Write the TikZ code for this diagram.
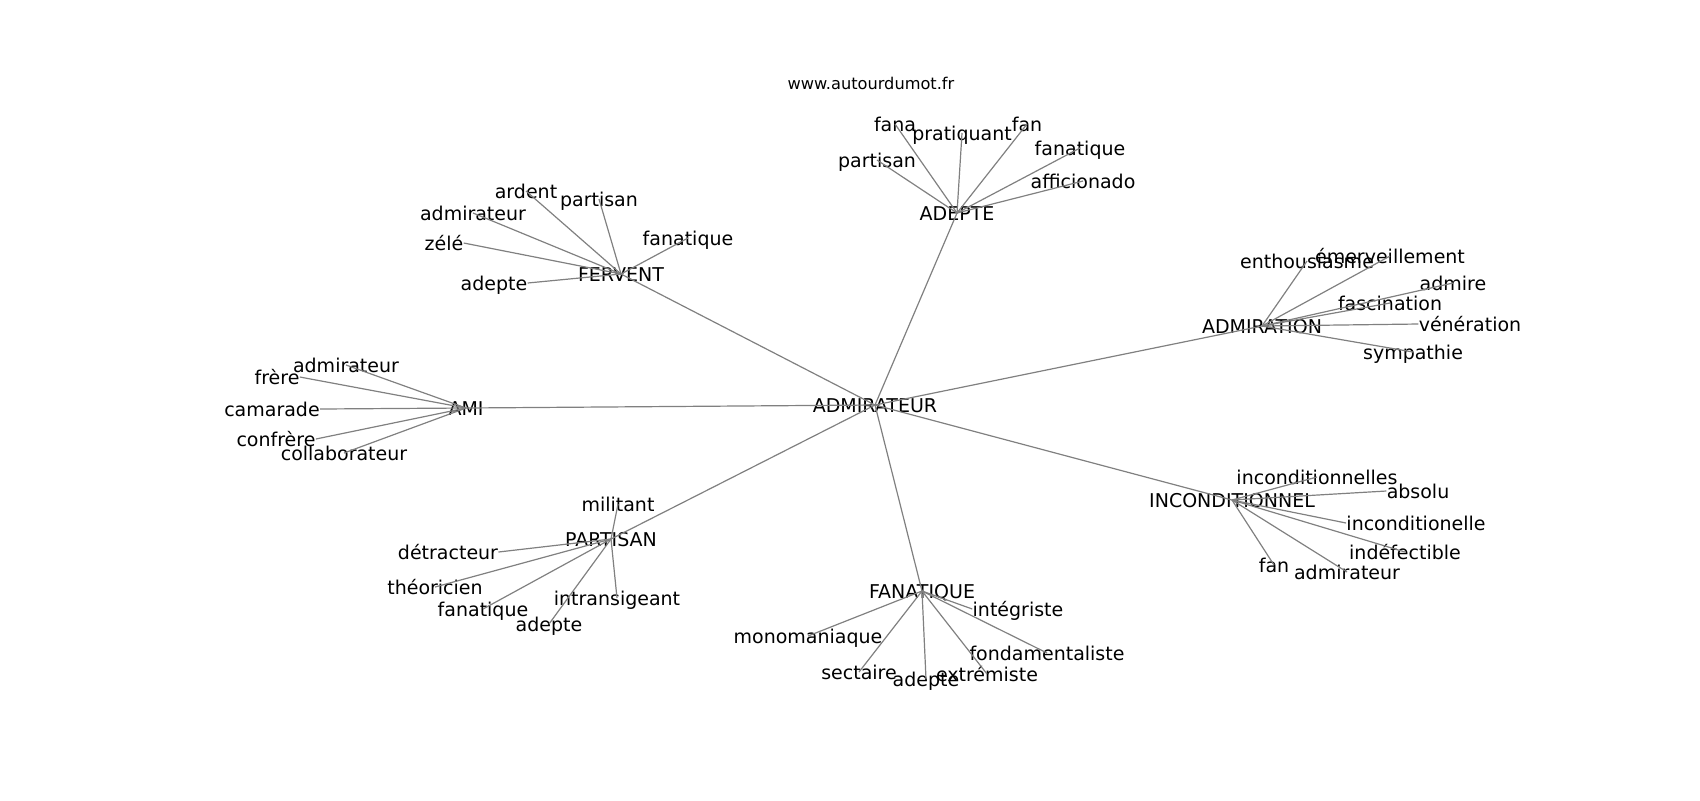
\documentclass[tikz,border=0pt]{standalone}
\usepackage{fontspec}
\setmainfont{DejaVu Sans}
\usetikzlibrary{positioning}

\begin{document}
\begin{tikzpicture}[x=0.5pt, y=-0.5pt,
  word/.style={font=\fontsize{9.5}{11}\selectfont, inner sep=0pt, text height=0.75em, text depth=0pt},
  link/.style={draw=gray, line width=0.6pt}]
  \useasboundingbox (0,0) rectangle (1700,800);

  \node[font=\fontsize{8.1}{10}\selectfont] (site) at (871,83) {www.autourdumot.fr};

  \node[word] (admirateur) at (875,405) {ADMIRATEUR};
  \node[word] (adepte) at (957,213) {ADEPTE};
  \node[word] (fervent) at (621,274) {FERVENT};
  \node[word] (ami) at (466,408) {AMI};
  \node[word] (admiration) at (1262,326) {ADMIRATION};
  \node[word] (incond) at (1232,500) {INCONDITIONNEL};
  \node[word] (partisan) at (611,539) {PARTISAN};
  \node[word] (fanatique) at (922,591) {FANATIQUE};

  \node[word] (ade-fana) at (895,124) {fana};
  \node[word] (ade-pratiquant) at (962,133) {pratiquant};
  \node[word] (ade-fan) at (1027,124) {fan};
  \node[word] (ade-fanatique) at (1080,148) {fanatique};
  \node[word] (ade-partisan) at (877,160) {partisan};
  \node[word] (ade-afficionado) at (1083,181) {afficionado};

  \node[word] (fer-ardent) at (526,191) {ardent};
  \node[word] (fer-partisan) at (599,199) {partisan};
  \node[word] (fer-admirateur) at (473,213) {admirateur};
  \node[word] (fer-zele) at (444,243) {zélé};
  \node[word] (fer-fanatique) at (688,238) {fanatique};
  \node[word] (fer-adepte) at (494,283) {adepte};

  \node[word] (ami-admirateur) at (346,365) {admirateur};
  \node[word] (ami-frere) at (277,377) {frère};
  \node[word] (ami-camarade) at (272,409) {camarade};
  \node[word] (ami-confrere) at (276,439) {confrère};
  \node[word] (ami-collaborateur) at (344,453) {collaborateur};

  \node[word] (adm-enthousiasme) at (1307,261) {enthousiasme};
  \node[word] (adm-emerveillement) at (1390,256) {émerveillement};
  \node[word] (adm-admire) at (1453,283) {admire};
  \node[word] (adm-fascination) at (1390,303) {fascination};
  \node[word] (adm-veneration) at (1470,324) {vénération};
  \node[word] (adm-sympathie) at (1413,352) {sympathie};

  \node[word] (inc-inconditionnelles) at (1317,477) {inconditionnelles};
  \node[word] (inc-absolu) at (1418,491) {absolu};
  \node[word] (inc-inconditionelle) at (1416,523) {inconditionelle};
  \node[word] (inc-indefectible) at (1405,552) {indéfectible};
  \node[word] (inc-fan) at (1274,565) {fan};
  \node[word] (inc-admirateur) at (1347,572) {admirateur};

  \node[word] (par-militant) at (618,504) {militant};
  \node[word] (par-detracteur) at (448,552) {détracteur};
  \node[word] (par-theoricien) at (435,587) {théoricien};
  \node[word] (par-intransigeant) at (617,598) {intransigeant};
  \node[word] (par-fanatique) at (483,609) {fanatique};
  \node[word] (par-adepte) at (549,624) {adepte};

  \node[word] (fan-integriste) at (1018,609) {intégriste};
  \node[word] (fan-monomaniaque) at (808,636) {monomaniaque};
  \node[word] (fan-fondamentaliste) at (1047,653) {fondamentaliste};
  \node[word] (fan-sectaire) at (859,672) {sectaire};
  \node[word] (fan-adepte) at (926,679) {adepte};
  \node[word] (fan-extremiste) at (987,674) {extrémiste};

  \foreach \b in {adepte, fervent, ami, admiration, incond, partisan, fanatique}
    \draw[link] (admirateur.center) -- (\b.center);
  \foreach \a/\b in {adepte/ade-fana.center, adepte/ade-pratiquant.center, adepte/ade-fan.center,
                     adepte/ade-fanatique.center, adepte/ade-partisan.center, adepte/ade-afficionado.center,
                     fervent/fer-ardent.center, fervent/fer-partisan.center, fervent/fer-admirateur.center,
                     fervent/fer-zele.east, fervent/fer-fanatique.center, fervent/fer-adepte.east,
                     ami/ami-admirateur.center, ami/ami-frere.east, ami/ami-camarade.east,
                     ami/ami-confrere.east, ami/ami-collaborateur.center,
                     admiration/adm-enthousiasme.center, admiration/adm-emerveillement.center,
                     admiration/adm-admire.center, admiration/adm-fascination.center,
                     admiration/adm-veneration.west, admiration/adm-sympathie.center,
                     incond/inc-inconditionnelles.center, incond/inc-absolu.west,
                     incond/inc-inconditionelle.west, incond/inc-indefectible.center,
                     incond/inc-fan.center, incond/inc-admirateur.center,
                     partisan/par-militant.center, partisan/par-detracteur.east,
                     partisan/par-theoricien.center, partisan/par-intransigeant.center,
                     partisan/par-fanatique.center, partisan/par-adepte.center,
                     fanatique/fan-integriste.west, fanatique/fan-monomaniaque.center,
                     fanatique/fan-fondamentaliste.center, fanatique/fan-sectaire.center,
                     fanatique/fan-adepte.center, fanatique/fan-extremiste.center}
    \draw[link] (\a.center) -- (\b);
\end{tikzpicture}
\end{document}
